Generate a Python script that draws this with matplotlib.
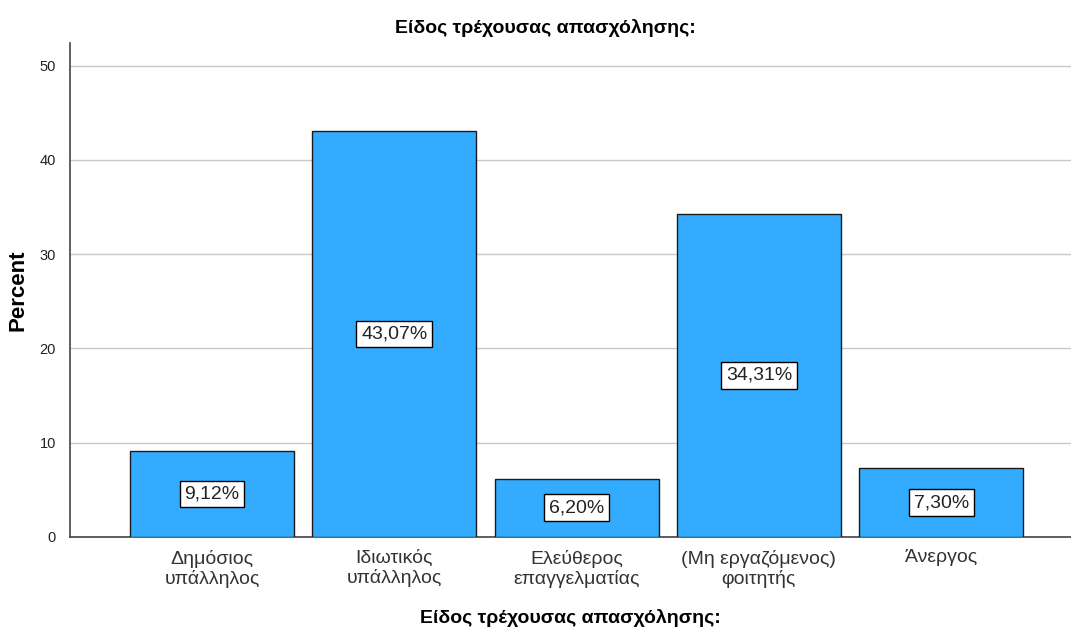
import matplotlib
matplotlib.use("Agg")
import matplotlib.pyplot as plt

categories = ["Δημόσιος\nυπάλληλος", "Ιδιωτικός\nυπάλληλος", "Ελεύθερος\nεπαγγελματίας",
              "(Μη εργαζόμενος)\nφοιτητής", "Άνεργος"]
values = [9.12, 43.07, 6.20, 34.31, 7.30]
value_labels = ["9,12%", "43,07%", "6,20%", "34,31%", "7,30%"]
yticks = [0, 10, 20, 30, 40, 50]
title = "Είδος τρέχουσας απασχόλησης:"

plt.rcParams['font.family'] = ['Liberation Sans', 'DejaVu Sans']

fig = plt.figure(figsize=(10.71, 6.31), dpi=100)
ax = fig.add_axes([70/1071, 94/631, 1 - 70/1071, 494/631])

x = list(range(len(categories)))
ax.bar(x, values, width=0.9, color="#33acff", edgecolor="#1a1a1a", linewidth=1.0, zorder=3)
for xi, v, lab in zip(x, values, value_labels):
    ax.text(xi, v / 2, lab, ha="center", va="center", fontsize=14, color="#222222", zorder=4,
            bbox=dict(boxstyle="square,pad=0.25", facecolor="white", edgecolor="black", linewidth=1.0))

ax.set_xlim(-0.779, 4.712)
ax.set_ylim(0, 52.4)
ax.set_yticks(yticks)
ax.set_yticklabels([str(t) for t in yticks], fontsize=10.5, color="#222222")
ax.set_xticks(x)
ax.set_xticklabels(categories, fontsize=14, color="#333333", linespacing=1.2)
ax.tick_params(axis="x", length=0, pad=9)
ax.tick_params(axis="y", length=0, pad=10)
ax.yaxis.grid(True, color="#c8c8c8", linewidth=1.0, zorder=0)
ax.set_axisbelow(True)
for s in ["top", "right"]:
    ax.spines[s].set_visible(False)
ax.spines["left"].set_color("#444444")
ax.spines["bottom"].set_color("#444444")
ax.spines["left"].set_linewidth(1.2)
ax.spines["bottom"].set_linewidth(1.2)

ax.set_ylabel("Percent", fontsize=16, fontweight="bold", labelpad=8)
ax.set_xlabel(title, fontsize=14, fontweight="bold", labelpad=15)
fig.text(545/1071, 1 - 28/631, title, ha="center", va="center", fontsize=14, fontweight="bold")

fig.savefig("out.png", dpi=100)
